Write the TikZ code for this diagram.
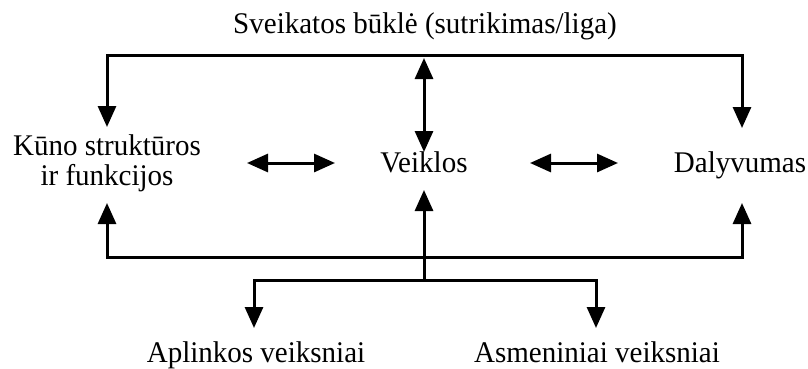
\documentclass[tikz,border=0pt]{standalone}
\usepackage{fontspec}
\setmainfont{Liberation Serif}[FakeStretch=0.967]
\usetikzlibrary{arrows.meta}
\begin{document}
\begin{tikzpicture}[x=1pt,y=-1pt,
  lbl/.style={inner sep=0pt, font=\fontsize{30}{30}\selectfont, anchor=base},
  conn/.style={line width=3pt},
  tip/.style={-{Triangle[length=21pt,width=18pt]}},
  dbl/.style={{Triangle[length=21pt,width=18pt]}-{Triangle[length=21pt,width=18pt]}}]
\useasboundingbox (0,0) rectangle (808,369);
% texts
\node[lbl] (title) at (425,34) {Sveikatos būklė (sutrikimas/liga)};
\node[lbl, align=center] (kuno) at (107,185) {Kūno struktūros\\ir funkcijos};
\node[lbl] (veik) at (424,172) {Veiklos};
\node[lbl] (daly) at (740,172) {Dalyvumas};
\node[lbl] (apl) at (256,362) {Aplinkos veiksniai};
\node[lbl] (asm) at (597,362) {Asmeniniai veiksniai};
% junctions and arrow ends
\coordinate (tm) at (424,56);
\coordinate (kIn) at (107,127);
\coordinate (dIn) at (742,128);
\coordinate (vTop) at (424,58);
\coordinate (vBot) at (424,152);
\coordinate (h1a) at (247,163);
\coordinate (h1b) at (335,163);
\coordinate (h2a) at (530,163);
\coordinate (h2b) at (618,163);
\coordinate (bm) at (424,257);
\coordinate (kUp) at (107,203);
\coordinate (dUp) at (742,203);
\coordinate (vUp) at (424,190);
\coordinate (br) at (424,280);
\coordinate (aIn) at (254,328);
\coordinate (sIn) at (596,328);
% connectors
\draw[conn,tip] (tm) -| (kIn);
\draw[conn,tip] (tm) -| (dIn);
\draw[conn,dbl] (vTop) -- (vBot);
\draw[conn,dbl] (h1a) -- (h1b);
\draw[conn,dbl] (h2a) -- (h2b);
\draw[conn,tip] (bm) -| (kUp);
\draw[conn,tip] (bm) -| (dUp);
\draw[conn,tip] (br) -- (vUp);
\draw[conn,tip] (br) -| (aIn);
\draw[conn,tip] (br) -| (sIn);
\end{tikzpicture}
\end{document}
